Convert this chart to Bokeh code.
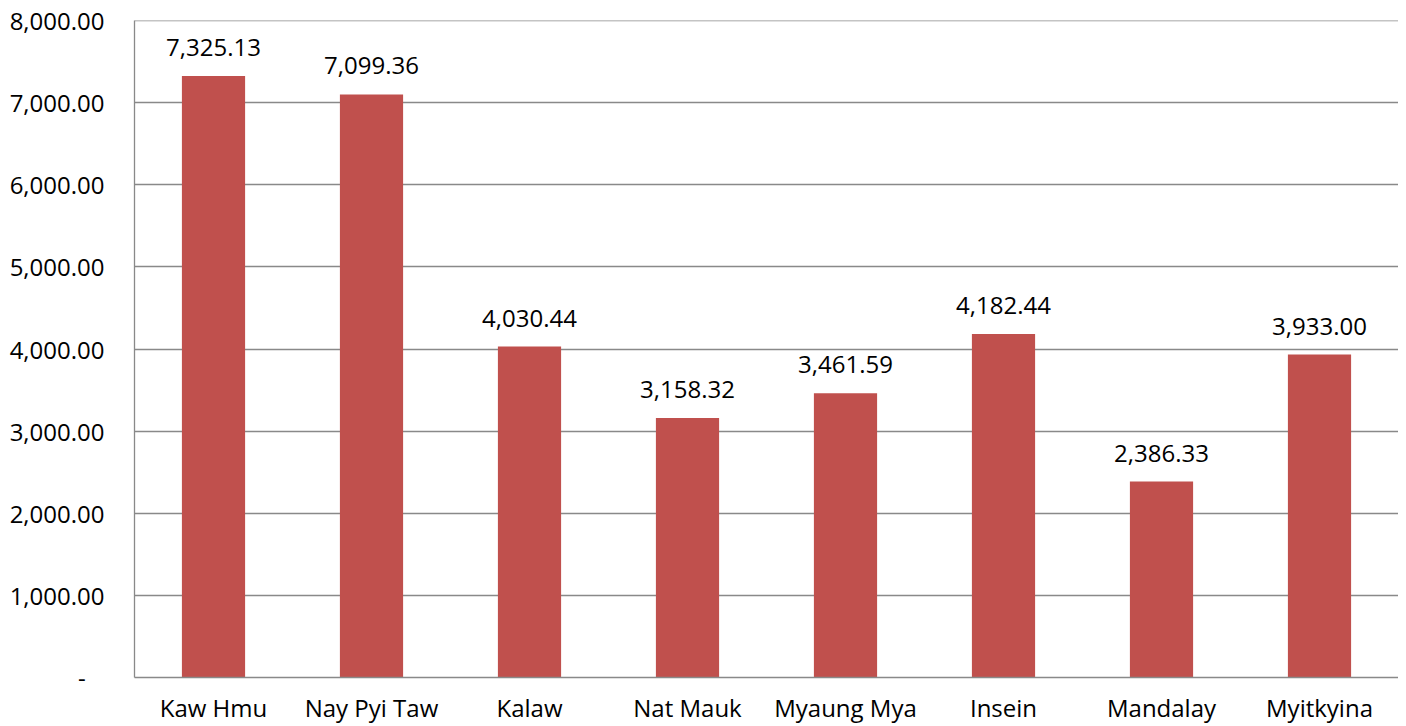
from bokeh.plotting import figure
from bokeh.models import ColumnDataSource, FactorRange, Range1d, FixedTicker, LabelSet, Span
from bokeh.core.properties import value
from bokeh.embed import file_html
from bokeh.resources import INLINE

categories = ["Kaw Hmu", "Nay Pyi Taw", "Kalaw", "Nat Mauk", "Myaung Mya", "Insein", "Mandalay", "Myitkyina"]
values = [7325.13, 7099.36, 4030.44, 3158.32, 3461.59, 4182.44, 2386.33, 3933.00]
value_labels = ["7,325.13", "7,099.36", "4,030.44", "3,158.32", "3,461.59", "4,182.44", "2,386.33", "3,933.00"]
y_ticks = [0, 1000, 2000, 3000, 4000, 5000, 6000, 7000, 8000]
y_tick_labels = ["-\u00a0\u00a0\u00a0", "1,000.00", "2,000.00", "3,000.00", "4,000.00",
                 "5,000.00", "6,000.00", "7,000.00", "8,000.00"]

FONT = "Open Sans"
GRID = "#898989"
src = ColumnDataSource(dict(cat=categories, val=values, lab=value_labels))

p = figure(x_range=FactorRange(*categories, range_padding=0), y_range=Range1d(0, 8000),
           width=1398, height=726, output_backend="svg", toolbar_location=None,
           min_border_left=134, min_border_right=0, min_border_top=20, min_border_bottom=49)
p.outline_line_color = None
p.background_fill_color = "white"
p.border_fill_color = "white"

p.vbar(x="cat", top="val", width=0.4, source=src, fill_color="#C0504D", line_color=None)

p.add_layout(Span(location=y_ticks[-1], dimension="width", line_color=GRID, line_width=1.3))

labels = LabelSet(x="cat", y="val", text="lab", source=src, text_align="center",
                  text_baseline="alphabetic", y_offset=20, text_font=value(FONT),
                  text_font_size="24px", text_color="#000000")
p.add_layout(labels)

p.yaxis.ticker = FixedTicker(ticks=y_ticks)
p.yaxis.major_label_overrides = {t: l for t, l in zip(y_ticks, y_tick_labels)}
p.yaxis.major_tick_line_color = None
p.yaxis.minor_tick_line_color = None
p.yaxis.major_label_standoff = 24
p.yaxis.axis_line_color = GRID
p.yaxis.axis_line_width = 1.3
p.yaxis.major_label_text_font = FONT
p.yaxis.major_label_text_font_size = "24px"
p.yaxis.major_label_text_color = "#000000"

p.xaxis.major_tick_line_color = None
p.xaxis.minor_tick_line_color = None
p.xaxis.major_label_standoff = 7
p.xaxis.axis_line_color = GRID
p.xaxis.axis_line_width = 1.3
p.xaxis.major_label_text_font = FONT
p.xaxis.major_label_text_font_size = "24px"
p.xaxis.major_label_text_color = "#000000"

p.xgrid.grid_line_color = None
p.ygrid.grid_line_color = GRID
p.ygrid.grid_line_width = 1.3

open("out.html", "w").write(file_html(p, INLINE))
